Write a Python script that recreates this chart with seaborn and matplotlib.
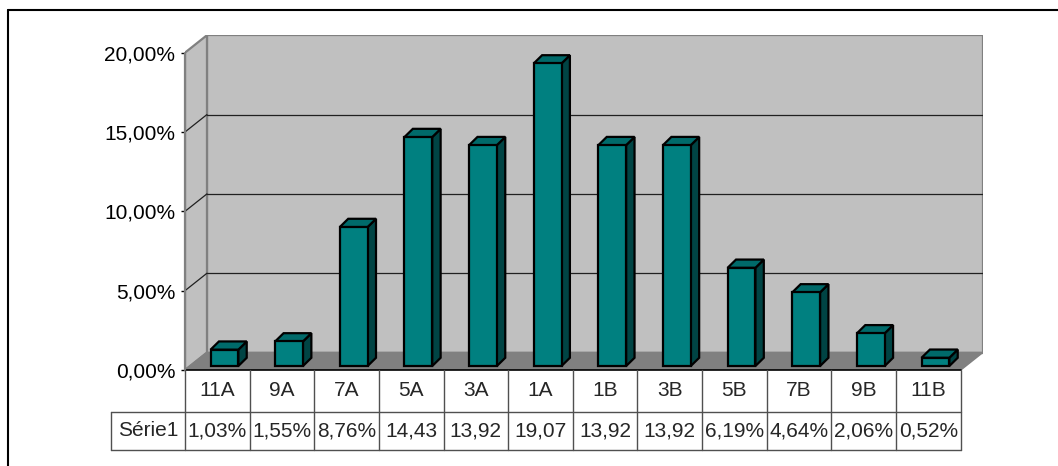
import matplotlib
matplotlib.use("Agg")
import matplotlib.pyplot as plt
from matplotlib.patches import Polygon
from matplotlib.lines import Line2D
from matplotlib.ticker import FuncFormatter
import seaborn as sns
import pandas as pd

# ---- data -------------------------------------------------------------
categories = ["11A", "9A", "7A", "5A", "3A", "1A", "1B", "3B", "5B", "7B", "9B", "11B"]
values = [1.03, 1.55, 8.76, 14.43, 13.92, 19.07, 13.92, 13.92, 6.19, 4.64, 2.06, 0.52]
series_name = "Série1"
y_ticks = [0, 5, 10, 15, 20]

# ---- style ------------------------------------------------------------
sns.set_style("white")
plt.rcParams["font.family"] = ["Liberation Sans", "DejaVu Sans"]
FS = 15

TEAL = "#008080"
TEAL_TOP = "#006a6a"
TEAL_SIDE = "#004444"
WALL = "#c0c0c0"
FLOOR = "#808080"
EDGE = "#808080"
TABLE_LINE = "#505050"

# oblique projection of the depth axis (in axis units)
DX, DY = 0.34, 1.10          # full depth of the walls
BDX, BDY = 0.13, 0.52        # depth of each column
BAR_W = 0.43
BAR_SHIFT = 0.11             # columns stand in the middle of the floor
BAR_BASE = 0.25

fig = plt.figure(figsize=(10.58, 4.66), dpi=100)
ax = fig.add_axes([185 / 1058, 96 / 466, 797.6 / 1058, 334.8 / 466])
n = len(categories)
x0, x1 = -0.5, n - 0.5
ymax = y_ticks[-1]

# ---- columns (front faces) --------------------------------------------
df = pd.DataFrame({"cat": categories, "val": values})
sns.barplot(data=df, x="cat", y="val", order=categories, color=TEAL, width=BAR_W,
            saturation=1, edgecolor="black", linewidth=1.6, ax=ax, zorder=3)
bars = list(ax.patches)

# ---- walls and floor --------------------------------------------------
ax.add_patch(Polygon([(x0 + DX, DY), (x1 + DX, DY), (x1 + DX, ymax + DY), (x0 + DX, ymax + DY)],
                     closed=True, facecolor=WALL, edgecolor=EDGE, lw=1.6, zorder=0))
ax.add_patch(Polygon([(x0, 0), (x0 + DX, DY), (x0 + DX, ymax + DY), (x0, ymax)],
                     closed=True, facecolor=WALL, edgecolor=EDGE, lw=1.6, zorder=0))
ax.add_patch(Polygon([(x0, 0), (x1, 0), (x1 + DX, DY), (x0 + DX, DY)],
                     closed=True, facecolor=FLOOR, edgecolor=EDGE, lw=1.2, zorder=0.5))

for t in y_ticks[1:-1]:
    ax.plot([x0 + DX, x1 + DX], [t + DY, t + DY], color="#202020", lw=0.9, zorder=0.6)
    ax.plot([x0, x0 + DX], [t, t + DY], color="#202020", lw=0.9, zorder=0.6)

ax.plot([x0, x1], [0, 0], color="black", lw=1.2, zorder=0.7, clip_on=False)

# ---- columns (sides and tops) -----------------------------------------
for p in bars:
    p.set_x(p.get_x() + BAR_SHIFT)
    p.set_y(BAR_BASE)
    left = p.get_x()
    right = left + p.get_width()
    top = BAR_BASE + p.get_height()
    side = Polygon([(right, BAR_BASE), (right + BDX, BAR_BASE + BDY),
                    (right + BDX, top + BDY), (right, top)],
                   closed=True, facecolor=TEAL_SIDE, edgecolor="black", lw=1.6, zorder=2.9)
    cap = Polygon([(left, top), (right, top), (right + BDX, top + BDY), (left + BDX, top + BDY)],
                  closed=True, facecolor=TEAL_TOP, edgecolor="black", lw=1.6, zorder=2.9)
    ax.add_patch(side)
    ax.add_patch(cap)

# ---- axes -------------------------------------------------------------
ax.set_xlim(x0, x1 + DX)
ax.set_ylim(0, ymax + DY)
for s in ax.spines.values():
    s.set_visible(False)
ax.set_xlabel("")
ax.set_ylabel("")
ax.set_xticks([])
ax.set_yticks(y_ticks)
ax.yaxis.set_major_formatter(FuncFormatter(lambda v, _: f"{v:.2f}".replace(".", ",") + "%"))
ax.tick_params(axis="y", left=True, length=3, width=1, color="black", pad=4,
               labelsize=FS, labelcolor="black")
ax.plot([x0, x0], [0, ymax], color=EDGE, lw=1.6, zorder=0.8, clip_on=False)

# ---- data table -------------------------------------------------------
row1 = -2.63
row2 = -5.04
name_left = -1.645
kw = dict(color=TABLE_LINE, lw=1.0, clip_on=False, zorder=5)
for k in range(n + 1):
    ax.plot([x0 + k, x0 + k], [0, row2], **kw)
ax.plot([name_left, x1], [row1, row1], **kw)
ax.plot([name_left, x1], [row2, row2], **kw)
ax.plot([name_left, name_left], [row1, row2], **kw)


def cell_text(v):
    s = f"{v:.2f}".replace(".", ",")
    # the percent sign no longer fits in a cell for two-digit values
    return s if v >= 10 else s + "%"


for i, (c, v) in enumerate(zip(categories, values)):
    ax.text(i, row1 / 2, c, ha="center", va="center", fontsize=FS, clip_on=False)
    ax.text(i, (row1 + row2) / 2, cell_text(v), ha="center", va="center",
            fontsize=FS, clip_on=False)
ax.text((name_left + x0) / 2, (row1 + row2) / 2, series_name, ha="center", va="center",
        fontsize=FS, clip_on=False)

# ---- chart area border ------------------------------------------------
fig.add_artist(Line2D([8 / 1058, 1], [1 - 9.5 / 466, 1 - 9.5 / 466], color="black", lw=1.5))
fig.add_artist(Line2D([8 / 1058, 8 / 1058], [0, 1 - 9.5 / 466], color="black", lw=1.5))

fig.savefig("out.png", dpi=100, facecolor="white")
